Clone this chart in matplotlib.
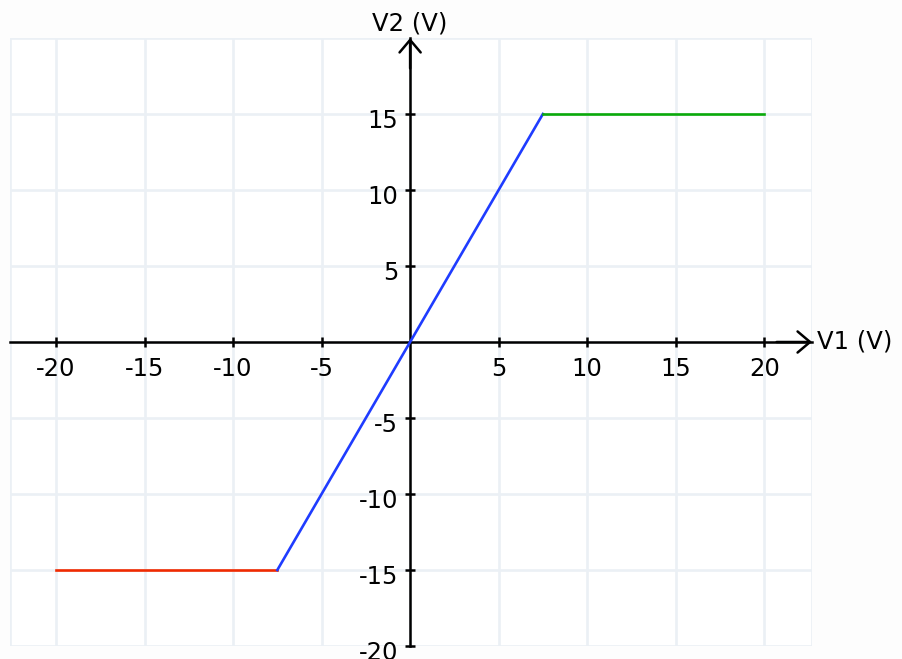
import matplotlib.pyplot as plt
import matplotlib.transforms as mtransforms

# Transfer characteristic of a saturating amplifier (gain 2, limits +/-15 V)
v1_low = [-20, -7.5]
v2_low = [-15, -15]
v1_lin = [-7.5, 7.5]
v2_lin = [-15, 15]
v1_high = [7.5, 20]
v2_high = [15, 15]

x_ticks = [-20, -15, -10, -5, 5, 10, 15, 20]
y_ticks = [-20, -15, -10, -5, 5, 10, 15]

W, H = 902, 659
fig = plt.figure(figsize=(W / 100, H / 100), dpi=100, facecolor="#fdfdfd")
ax = fig.add_axes([10 / W, 13 / H, 802 / W, 608 / H])
ax.set_facecolor("white")

xmin, xmax = -22.6, 22.7
ymin, ymax = -20, 20
ax.set_xlim(xmin, xmax)
ax.set_ylim(ymin, ymax)

grid_c = "#ebf0f5"
for gx in [-20, -15, -10, -5, 0, 5, 10, 15, 20, xmin, xmax]:
    ax.axvline(gx, color=grid_c, lw=1.9, zorder=0)
for gy in [-20, -15, -10, -5, 0, 5, 10, 15, 20]:
    ax.axhline(gy, color=grid_c, lw=1.9, zorder=0)

# axes through the origin
for s in ["top", "right"]:
    ax.spines[s].set_visible(False)
ax.spines["left"].set_position("zero")
ax.spines["bottom"].set_position("zero")
for s in ["left", "bottom"]:
    ax.spines[s].set_linewidth(1.8)
    ax.spines[s].set_zorder(3)

fs = 17.5
ax.set_xticks(x_ticks)
ax.set_yticks(y_ticks)
ax.set_xticklabels([str(t) for t in x_ticks])
ax.set_yticklabels([str(t) for t in y_ticks])
ax.tick_params(direction="inout", length=7, width=1.8, labelsize=fs)
ax.tick_params(axis="y", pad=5)
ax.tick_params(axis="x", pad=7)

# y labels sit a little below their ticks in the original
shift = mtransforms.ScaledTranslation(0, -4 / 100, fig.dpi_scale_trans)
for lab in ax.get_yticklabels():
    lab.set_transform(lab.get_transform() + shift)

# arrow heads
arrow = dict(arrowstyle="->,head_length=0.45,head_width=0.38", lw=1.8,
             color="black", mutation_scale=20, shrinkA=0, shrinkB=0)
ax.annotate("", xy=(xmax, 0), xytext=(xmax - 2, 0), arrowprops=arrow,
            annotation_clip=False)
ax.annotate("", xy=(0, ymax), xytext=(0, ymax - 2), arrowprops=arrow,
            annotation_clip=False)

ax.text(xmax + 0.3, 0, "V1 (V)", fontsize=fs, ha="left", va="center")
ax.text(0, ymax + 0.15, "V2 (V)", fontsize=fs, ha="center", va="bottom")

ax.plot(v1_low, v2_low, color="#f02a00", lw=1.9, zorder=4)
ax.plot(v1_lin, v2_lin, color="#1f3cff", lw=1.9, zorder=4)
ax.plot(v1_high, v2_high, color="#0aaa0a", lw=1.9, zorder=4)

fig.savefig("out.png", dpi=100, facecolor=fig.get_facecolor())
